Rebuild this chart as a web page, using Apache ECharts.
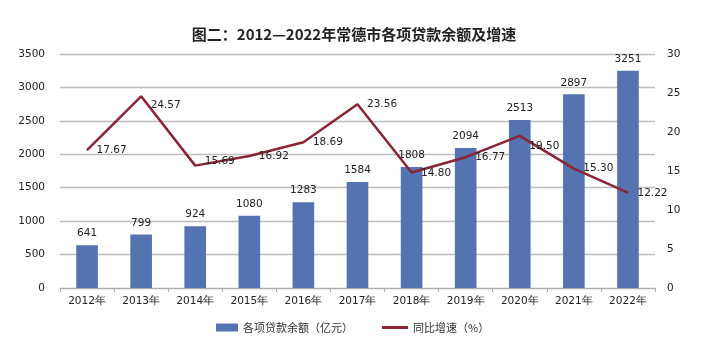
<!DOCTYPE html>
<html><head><meta charset="utf-8">
<script src="https://cdn.jsdelivr.net/npm/echarts@6/dist/echarts.min.js"></script>
<style>html,body{margin:0;padding:0;background:#fff}#c{width:708px;height:355px}</style>
</head><body><div id="c"></div>
<script>
const categories = ['2012年','2013年','2014年','2015年','2016年','2017年','2018年','2019年','2020年','2021年','2022年'];
const loanBalance = [641, 799, 924, 1080, 1283, 1584, 1808, 2094, 2513, 2897, 3251];
const growthRate = [17.67, 24.57, 15.69, 16.92, 18.69, 23.56, 14.80, 16.77, 19.50, 15.30, 12.22];
const seriesNames = ['各项贷款余额（亿元）', '同比增速（%）'];
const titleText = '图二：2012—2022年常德市各项贷款余额及增速';
// vertical nudges of the line's value labels, as placed in the original
const lineLabelDy = [1, 10, -3, 1, 1, 1, 2, 1, 11, 1, 2];

const font = 'DejaVu Sans';
const chart = echarts.init(document.getElementById('c'), null, {renderer: 'canvas'});
chart.setOption({
  animation: false,
  backgroundColor: '#fff',
  title: {
    text: titleText, left: 'center', top: 22,
    textStyle: {fontSize: 15, fontWeight: 'bold', color: '#222', fontFamily: 'Noto Sans CJK SC'}
  },
  legend: [
    {left: 216, top: 322, padding: 0, itemWidth: 22, itemHeight: 8,
     textStyle: {fontSize: 11, color: '#333', fontFamily: 'Noto Sans CJK SC'},
     data: [{name: seriesNames[0], icon: 'rect'}]},
    {left: 382, top: 322, padding: 0, itemWidth: 26, itemHeight: 3,
     textStyle: {fontSize: 11, color: '#333', fontFamily: 'Noto Sans CJK SC'},
     data: [{name: seriesNames[1], icon: 'rect'}]}
  ],
  grid: {left: 60, right: 53, top: 54, bottom: 67, containLabel: false},
  xAxis: {
    type: 'category', data: categories, boundaryGap: true,
    axisLine: {lineStyle: {color: '#aaa'}},
    axisTick: {show: true, alignWithLabel: false, length: 4, lineStyle: {color: '#aaa'}},
    axisLabel: {fontSize: 10.5, color: '#222', fontFamily: font, margin: 8}
  },
  yAxis: [
    {type: 'value', min: 0, max: 3500, interval: 500,
     axisLine: {show: false}, axisTick: {show: false},
     splitLine: {lineStyle: {color: '#bdbdbd', width: 1.3}},
     axisLabel: {fontSize: 10.5, color: '#222', fontFamily: font, margin: 15, formatter: v => String(v)}},
    {type: 'value', min: 0, max: 30, interval: 5,
     axisLine: {show: false}, axisTick: {show: false}, splitLine: {show: false},
     axisLabel: {fontSize: 10.5, color: '#222', fontFamily: font, margin: 12}}
  ],
  series: [
    {name: seriesNames[0], type: 'bar', data: loanBalance, barWidth: '40%',
     itemStyle: {color: '#5572b1'},
     label: {show: true, position: 'top', fontSize: 10.5, color: '#222', fontFamily: font, distance: 6}},
    {name: seriesNames[1], type: 'line', yAxisIndex: 1,
     data: growthRate.map((v, i) => ({value: v, label: {position: [10, lineLabelDy[i] - 6]}})),
     symbol: 'circle', symbolSize: 1, showSymbol: true,
     lineStyle: {color: '#8b2535', width: 2.5}, itemStyle: {color: '#8b2535'},
     label: {show: true, fontSize: 10.5, color: '#222', fontFamily: font,
       formatter: p => p.value.toFixed(2)},
     labelLayout: {hideOverlap: false}}
  ]
});
</script></body></html>
